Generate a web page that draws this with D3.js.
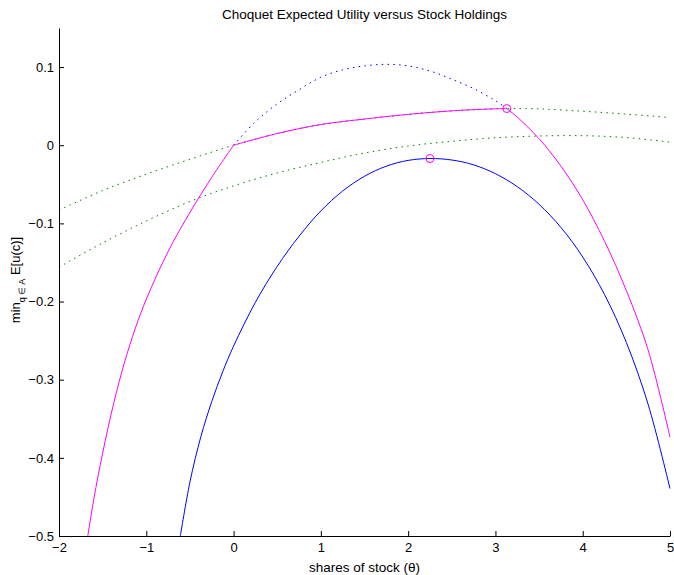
<!DOCTYPE html>
<html>
<head>
<meta charset="utf-8">
<script src="https://cdn.jsdelivr.net/npm/d3@7"></script>
<style>
	body{margin:0;background:#fff;}
	#chart{width:674px;height:575px;}
	text{font-family:"Liberation Sans", Arial, Helvetica, sans-serif;fill:#000;}
</style>
</head>
<body>
<div id="chart"></div>
<script>
//values
const xTicks = [-2,-1,0,1,2,3,4,5];
const yTicks = [-0.5,-0.4,-0.3,-0.2,-0.1,0,0.1];

//solid blue: min expected utility, peak marked
const thetaBlue = [-0.61,-0.5,-0.375,-0.25,-0.125,0,0.25,0.5,0.75,1,1.25,1.5,1.75,2,2.25,2.5,2.75,3,3.25,3.5,3.75,4,4.25,4.5,4.75,5];
const euBlue = [-0.5,-0.431,-0.373,-0.328,-0.290,-0.257,-0.201,-0.155,-0.1165,-0.084,-0.0586,-0.0397,-0.0268,-0.0194,-0.017,-0.0189,-0.0251,-0.0364,-0.053,-0.0756,-0.1051,-0.143,-0.1911,-0.2524,-0.3318,-0.4393];

//solid magenta: three pieces, kinks at 0 and at the marked point
const thetaMagLeft = [-1.67,-1.6,-1.5,-1.375,-1.25,-1.125,-1,-0.75,-0.5,-0.25,0];
const euMagLeft = [-0.5,-0.452,-0.394,-0.331,-0.278,-0.234,-0.197,-0.136,-0.086,-0.041,0];
const thetaMagMid = [0,0.5,1,1.5,2,2.5,3,3.13];
const euMagMid = [0,0.015,0.0265,0.0335,0.0395,0.044,0.0466,0.0469];
const thetaMagRight = [3.13,3.25,3.5,3.75,4,4.25,4.5,4.75,5];
const euMagRight = [0.0469,0.036,0.0083,-0.0267,-0.0698,-0.1229,-0.186,-0.2623,-0.3736];

//dotted blue
const thetaBlueDot = [0,0.25,0.5,0.75,1,1.25,1.5,1.75,2,2.25,2.5,2.75,3,3.13];
const euBlueDot = [0,0.030,0.053,0.071,0.087,0.0965,0.1015,0.1035,0.1015,0.095,0.0845,0.0725,0.057,0.0469];

//dotted green, upper and lower
const thetaGreenUp = [-2,-1.5,-1,-0.5,0,0.5,1,1.5,2,2.5,3,3.13,3.5,4,4.5,5];
const euGreenUp = [-0.083,-0.058,-0.037,-0.018,0,0.015,0.0265,0.0335,0.0395,0.044,0.0466,0.0469,0.0465,0.0435,0.0398,0.0354];
const thetaGreenLow = [-2,-1.5,-1,-0.5,0,0.5,1,1.5,2,2.5,3,3.5,4,4.5,5];
const euGreenLow = [-0.156,-0.125,-0.097,-0.072,-0.052,-0.0355,-0.022,-0.010,-0.001,0.005,0.0095,0.0118,0.0122,0.0098,0.004];

//circles
const thetaMarks = [2.25,3.13];
const euMarks = [-0.017,0.0469];

const margin = {t:28, r:4, b:39, l:59};

drawChart();

function pairs(xs, ys){
	return xs.map(function(x,i){ return {theta:x, eu:ys[i]} });
}

function drawChart(){
	const W = 674;
	const H = 575;
	const w = W - margin.l - margin.r;
	const h = H - margin.t - margin.b;

	const scaleX = d3.scaleLinear().domain([-2,5]).range([0, w]);
	const scaleY = d3.scaleLinear().domain([-0.5,0.15]).range([h, 0]);

	const line = d3.line()
		.x(function(d){ return scaleX(d.theta) })
		.y(function(d){ return scaleY(d.eu) })
		.curve(d3.curveCatmullRom.alpha(0.5));

	const svg = d3.select('#chart')
		.append('svg')
		.attr('width', W).attr('height', H);

	const plot = svg.append('g')
		.attr('transform', `translate(${margin.l}, ${margin.t})`);

	//dotted curves first, solid on top
	const dotted = [
		{data: pairs(thetaGreenUp, euGreenUp), color:'#008000'},
		{data: pairs(thetaGreenLow, euGreenLow), color:'#008000'},
		{data: pairs(thetaBlueDot, euBlueDot), color:'#0000ff'}
	];
	dotted.forEach(function(s){
		plot.append('path')
			.datum(s.data)
			.attr('d', line)
			.style('fill', 'none')
			.style('stroke', s.color)
			.style('stroke-width', 1)
			.style('stroke-dasharray', '1.5,4.3');
	});

	const solid = [
		{data: pairs(thetaBlue, euBlue), color:'#0000ff'},
		{data: pairs(thetaMagLeft, euMagLeft), color:'#ff00ff'},
		{data: pairs(thetaMagMid, euMagMid), color:'#ff00ff'},
		{data: pairs(thetaMagRight, euMagRight), color:'#ff00ff'}
	];
	solid.forEach(function(s){
		plot.append('path')
			.datum(s.data)
			.attr('d', line)
			.style('fill', 'none')
			.style('stroke', s.color)
			.style('stroke-width', 1);
	});

	plot.selectAll('.mark')
		.data(pairs(thetaMarks, euMarks))
		.enter()
		.append('circle')
		.attr('class', 'mark')
		.attr('cx', function(d){ return scaleX(d.theta) })
		.attr('cy', function(d){ return scaleY(d.eu) })
		.attr('r', 4)
		.style('fill', 'none')
		.style('stroke', '#ff00ff')
		.style('stroke-width', 1);

	//axes, ticks pointing inward
	const axisX = d3.axisBottom()
		.scale(scaleX)
		.tickValues(xTicks)
		.tickFormat(d3.format('d'))
		.tickSize(-5)
		.tickSizeOuter(0)
		.tickPadding(7);

	const axisY = d3.axisLeft()
		.scale(scaleY)
		.tickValues(yTicks)
		.tickFormat(d3.format('.1~f'))
		.tickSize(-5)
		.tickSizeOuter(0)
		.tickPadding(5);

	plot.append('g')
		.attr('class', 'axis axis-x')
		.attr('transform', `translate(0, ${h})`)
		.call(axisX);

	plot.append('g')
		.attr('class', 'axis axis-y')
		.call(axisY);

	plot.selectAll('.axis text')
		.style('font-size', '13px')
		.style('font-family', '"Liberation Sans", Arial, sans-serif');
	plot.selectAll('.axis path, .axis line')
		.style('stroke', '#000');

	//labels
	svg.append('text')
		.attr('x', margin.l + w/2)
		.attr('y', 18.5)
		.attr('text-anchor', 'middle')
		.style('font-size', '13.5px')
		.text('Choquet Expected Utility versus Stock Holdings');

	svg.append('text')
		.attr('x', margin.l + w/2)
		.attr('y', 571.5)
		.attr('text-anchor', 'middle')
		.style('font-size', '13.5px')
		.text('shares of stock (θ)');

	const ylab = svg.append('text')
		.attr('transform', `translate(20, ${margin.t + h/2 - 2}) rotate(-90)`)
		.attr('text-anchor', 'middle')
		.style('font-size', '13px');
	ylab.append('tspan').text('min');
	ylab.append('tspan').attr('dy', 5).style('font-size', '9px').text('q ∈ A');
	ylab.append('tspan').attr('dy', -5).text(' E[u(c)]');
}
</script>
</body>
</html>
